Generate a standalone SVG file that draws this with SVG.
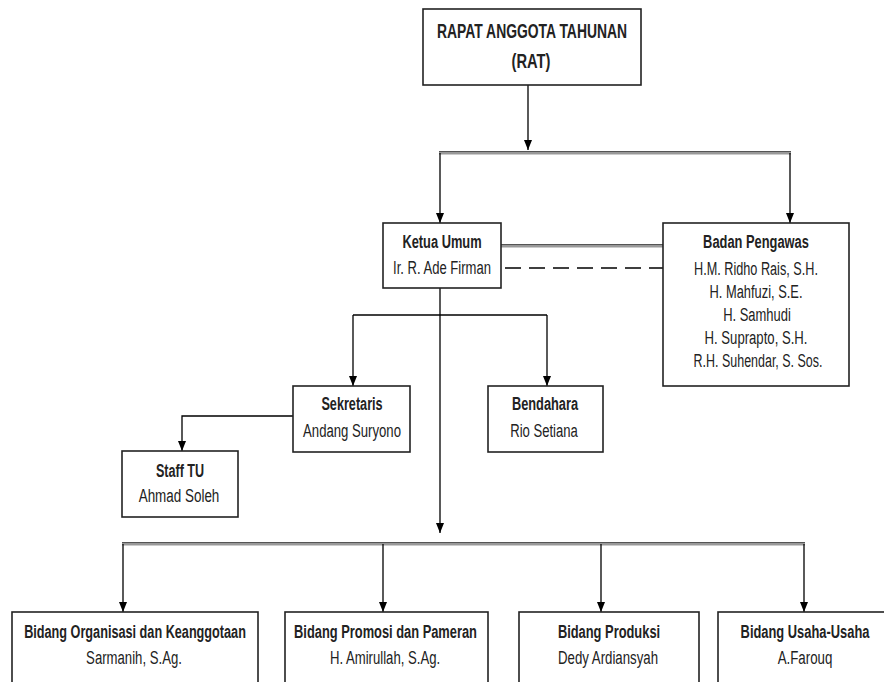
<svg xmlns="http://www.w3.org/2000/svg" width="884" height="682" viewBox="0 0 884 682">
<defs>
<marker id="arr" markerUnits="userSpaceOnUse" markerWidth="10" markerHeight="8" refX="10" refY="4" viewBox="0 0 10 8" orient="auto">
<path d="M0,0 L10,4 L0,8 Z" fill="#000"/>
</marker>
</defs>
<style>
.box{fill:#fff;stroke:#222;stroke-width:1.6}
text{font-family:"Liberation Sans",Arial,sans-serif;font-size:19px;fill:#222;text-anchor:middle}
.b{font-weight:bold}
.t{font-size:21px}
.ln{fill:none;stroke:#000;stroke-width:1.3}
.arw{fill:none;stroke:#000;stroke-width:1.3}
.bar{fill:none;stroke:#999;stroke-width:3.2}
.bare{fill:none;stroke:#555;stroke-width:1}
.dash{fill:none;stroke:#000;stroke-width:1.5;stroke-dasharray:16 8}
</style>
<rect width="884" height="682" fill="#fff"/>
<g id="connectors">
<line class="bar" x1="439" y1="153" x2="791" y2="153"/>
<line class="bare" x1="439" y1="151.5" x2="791" y2="151.5"/>
<path class="arw" d="M528,85 V150" marker-end="url(#arr)"/>
<path class="arw" d="M440,153 V223" marker-end="url(#arr)"/>
<path class="arw" d="M790,153 V223" marker-end="url(#arr)"/>
<line class="bar" x1="501" y1="246" x2="663" y2="246"/>
<line class="bare" x1="501" y1="244.5" x2="663" y2="244.5"/>
<line class="dash" x1="505" y1="268" x2="663" y2="268"/>
<path class="arw" d="M440,288 V533" marker-end="url(#arr)"/>
<path class="ln" d="M353,315 H547"/>
<path class="arw" d="M353,315 V386" marker-end="url(#arr)"/>
<path class="arw" d="M547,315 V386" marker-end="url(#arr)"/>
<path class="arw" d="M293,416 H182 V451" marker-end="url(#arr)"/>
<line class="bar" x1="122" y1="544" x2="805" y2="544"/>
<line class="bare" x1="122" y1="542.5" x2="805" y2="542.5"/>
<path class="arw" d="M123,544 V612" marker-end="url(#arr)"/>
<path class="arw" d="M383,544 V612" marker-end="url(#arr)"/>
<path class="arw" d="M601,544 V612" marker-end="url(#arr)"/>
<path class="arw" d="M804,544 V612" marker-end="url(#arr)"/>
</g>
<g id="rat">
<rect class="box" x="423" y="9" width="218" height="76"/>
<text class="b t" transform="translate(532,38) scale(0.72,1)" textLength="264" lengthAdjust="spacingAndGlyphs">RAPAT ANGGOTA TAHUNAN</text>
<text class="b t" transform="translate(531,68) scale(0.72,1)" textLength="54" lengthAdjust="spacingAndGlyphs">(RAT)</text>
</g>
<g id="ketua">
<rect class="box" x="383" y="223" width="118" height="65"/>
<text class="b" transform="translate(442,248) scale(0.72,1)" textLength="110" lengthAdjust="spacingAndGlyphs">Ketua Umum</text>
<text transform="translate(442,274) scale(0.72,1)" textLength="136" lengthAdjust="spacingAndGlyphs">Ir. R. Ade Firman</text>
</g>
<g id="badan">
<rect class="box" x="663" y="223" width="186" height="163"/>
<text class="b" transform="translate(756,248) scale(0.72,1)" textLength="147" lengthAdjust="spacingAndGlyphs">Badan Pengawas</text>
<text transform="translate(756,275) scale(0.72,1)" textLength="172" lengthAdjust="spacingAndGlyphs">H.M. Ridho Rais, S.H.</text>
<text transform="translate(756,298) scale(0.72,1)" textLength="129" lengthAdjust="spacingAndGlyphs">H. Mahfuzi, S.E.</text>
<text transform="translate(757,321) scale(0.72,1)" textLength="94" lengthAdjust="spacingAndGlyphs">H. Samhudi</text>
<text transform="translate(756,344) scale(0.72,1)" textLength="143" lengthAdjust="spacingAndGlyphs">H. Suprapto, S.H.</text>
<text transform="translate(758,367) scale(0.72,1)" textLength="179" lengthAdjust="spacingAndGlyphs">R.H. Suhendar, S. Sos.</text>
</g>
<g id="sekretaris">
<rect class="box" x="293" y="386" width="117" height="66"/>
<text class="b" transform="translate(352,410) scale(0.72,1)" textLength="85" lengthAdjust="spacingAndGlyphs">Sekretaris</text>
<text transform="translate(352,437) scale(0.72,1)" textLength="136" lengthAdjust="spacingAndGlyphs">Andang Suryono</text>
</g>
<g id="bendahara">
<rect class="box" x="488" y="386" width="115" height="66"/>
<text class="b" transform="translate(545,410) scale(0.72,1)" textLength="92" lengthAdjust="spacingAndGlyphs">Bendahara</text>
<text transform="translate(544,437) scale(0.72,1)" textLength="94" lengthAdjust="spacingAndGlyphs">Rio Setiana</text>
</g>
<g id="staff">
<rect class="box" x="122" y="451" width="116" height="66"/>
<text class="b" transform="translate(180,477) scale(0.72,1)" textLength="67" lengthAdjust="spacingAndGlyphs">Staff TU</text>
<text transform="translate(179,502) scale(0.72,1)" textLength="112" lengthAdjust="spacingAndGlyphs">Ahmad Soleh</text>
</g>
<g id="organisasi">
<rect class="box" x="12" y="612" width="246" height="90"/>
<text class="b" transform="translate(135,638) scale(0.72,1)" textLength="308" lengthAdjust="spacingAndGlyphs">Bidang Organisasi dan Keanggotaan</text>
<text transform="translate(134,664) scale(0.72,1)" textLength="133" lengthAdjust="spacingAndGlyphs">Sarmanih, S.Ag.</text>
</g>
<g id="promosi">
<rect class="box" x="285" y="612" width="203" height="90"/>
<text class="b" transform="translate(385.5,638) scale(0.72,1)" textLength="254" lengthAdjust="spacingAndGlyphs">Bidang Promosi dan Pameran</text>
<text transform="translate(385,664) scale(0.72,1)" textLength="153" lengthAdjust="spacingAndGlyphs">H. Amirullah, S.Ag.</text>
</g>
<g id="produksi">
<rect class="box" x="519" y="612" width="180" height="90"/>
<text class="b" transform="translate(609,638) scale(0.72,1)" textLength="142" lengthAdjust="spacingAndGlyphs">Bidang Produksi</text>
<text transform="translate(608,664) scale(0.72,1)" textLength="139" lengthAdjust="spacingAndGlyphs">Dedy Ardiansyah</text>
</g>
<g id="usaha">
<rect class="box" x="718" y="612" width="174" height="90"/>
<text class="b" transform="translate(805,638) scale(0.72,1)" textLength="179" lengthAdjust="spacingAndGlyphs">Bidang Usaha-Usaha</text>
<text transform="translate(805,664) scale(0.72,1)" textLength="76" lengthAdjust="spacingAndGlyphs">A.Farouq</text>
</g>
</svg>
